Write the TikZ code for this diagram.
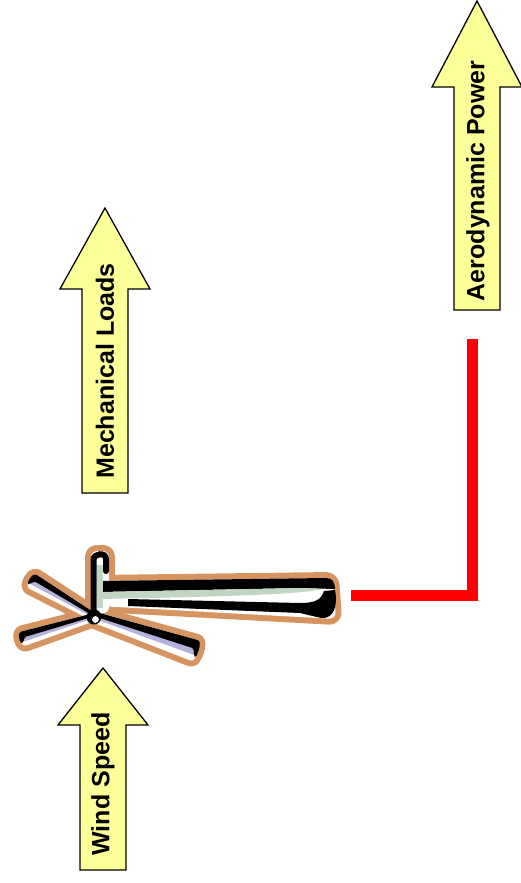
\documentclass[tikz,border=0pt]{standalone}
\usepackage{fontspec}
\setmainfont{Liberation Sans}
\usetikzlibrary{calc}
\definecolor{arrowfill}{RGB}{255,255,153}
\definecolor{halo}{RGB}{214,148,96}
\definecolor{lilac}{RGB}{178,178,220}
\definecolor{sage}{RGB}{192,214,192}
\tikzset{
  flow arrow/.style={draw=black, line width=1.3pt, fill=arrowfill},
  flow label/.style={rotate=90, inner sep=0pt, font=\fontsize{25}{29}\selectfont\bfseries},
  halo ring/.style={draw=halo, fill=halo, line width=12pt, line join=round},
  power line/.style={draw=red, line width=11pt},
}

\begin{document}
\begin{tikzpicture}[x=1pt, y=-1pt]
    \useasboundingbox (0,0) rectangle (520,883);

    % Arrows: centre / tip / head base / bottom
    \foreach \cx/\tip/\base/\bot in {105/208/289/493, 477/1/87/310, 103/668/725/870}
        \draw[flow arrow] (\cx,\tip) -- (\cx+45,\base) -- (\cx+23,\base) -- (\cx+23,\bot)
            -- (\cx-23,\bot) -- (\cx-23,\base) -- (\cx-45,\base) -- cycle;

    \node[flow label] (loads) at (105,371) {Mechanical Loads};
    \node[flow label] (power) at (478,181) {Aerodynamic Power};
    \node[flow label] (wind)  at (103,784) {Wind Speed};

    % Turbine: halos first, then faces, then the ink
    \coordinate (hub) at (94,617);
    \def\nacelle{[rounded corners=7pt] (98,581) -- (333,578) -- (336,619) -- (98,606) -- cycle}
    \def\mast{[rounded corners=6pt] (91,613) -- (91,551) -- (109,551) -- (109,613) -- cycle}
    % blades: angle / length / root and tip half width / inked side
    \def\blades{150/73/4/8/1, 197/76/4/7.5/1, -18.4/108/5.5/11/-1}

    \path[halo ring] \nacelle;
    \path[halo ring] \mast;
    \foreach \ang/\len/\r/\w/\s in \blades
        \path[halo ring, shift={(hub)}, rotate=\ang, rounded corners=3pt]
            (0,-\r) -- (\len,-\w) -- (\len+2,0) -- (\len,\w) -- (0,\r) -- cycle;

    \fill[white] \nacelle;
    \fill[white] \mast;
    \foreach \ang/\len/\r/\w/\s in \blades
        \fill[white, shift={(hub)}, rotate=\ang, rounded corners=3pt]
            (0,-\r) -- (\len,-\w) -- (\len+2,0) -- (\len,\w) -- (0,\r) -- cycle;

    \foreach \ang/\len/\r/\w/\s in \blades{
        \begin{scope}[shift={(hub)}, rotate=\ang]
            \fill[lilac] (8,{\s*0.2*\r}) -- ({\len-2},{\s*0.2*\w}) -- ({\len-2},{-\s*0.4*\w}) -- (8,{-\s*0.3*\r}) -- cycle;
            \fill[black, rounded corners=2pt] (3,{\s*\r}) -- (\len,{\s*\w}) -- ({\len+2},{\s*0.3*\w})
                -- ({\len+1.5},{-\s*0.55*\w}) -- ({\len-1.5},{-\s*0.5*\w}) -- ({\len-3},{\s*0.15*\w}) -- (3,{\s*0.15*\r}) -- cycle;
        \end{scope}
    }

    % nacelle ink
    \fill[black] (100,581) -- (326,578) .. controls (332,578) and (335,582) .. (335,589)
        -- (300,588) -- (100,592) -- cycle;
    \fill[sage] (100,592) -- (300,588) -- (322,589) .. controls (300,594) and (250,596) .. (100,599) -- cycle;
    \fill[black] (128,599) -- (300,603) .. controls (315,603) and (321,600) .. (324,591)
        -- (335,590) .. controls (338,606) and (334,619) .. (321,618) -- (300,613) -- (128,606) -- cycle;

    % mast ink
    \fill[sage] (97,565) rectangle (103,608);
    \draw[black, line width=6pt, line cap=round] (93.5,611) -- (93.5,560)
        .. controls (93.5,553) and (106,552) .. (106,559) -- (106,571);

    % hub ring
    \fill[black] (hub) circle [radius=7.5];
    \fill[white] ($(hub)+(1.5,2.5)$) circle [radius=3.4];

    % feed to the power arrow
    \coordinate (shaft) at (351,595.5);
    \coordinate (feed) at (472.5,339);
    \draw[power line] (shaft) -| (feed);
\end{tikzpicture}
\end{document}
